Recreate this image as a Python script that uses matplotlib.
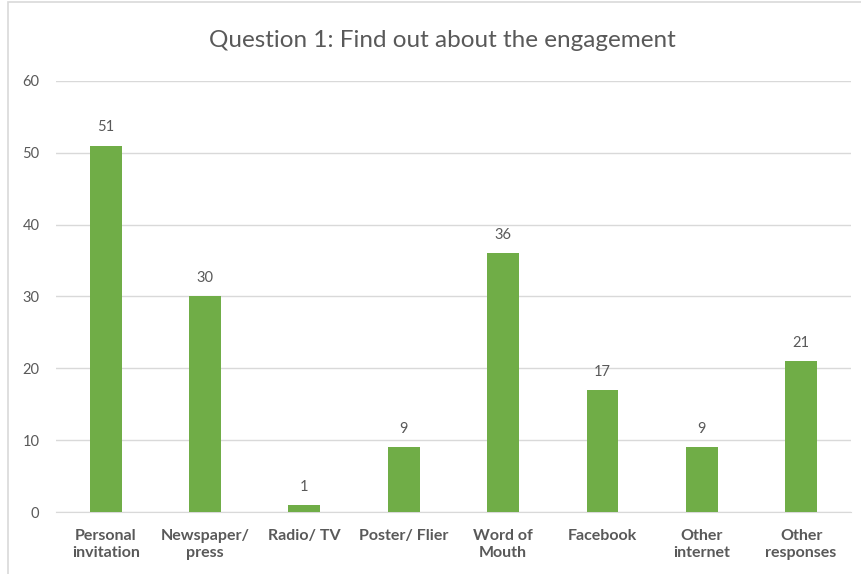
import matplotlib
matplotlib.use("Agg")
import matplotlib.pyplot as plt
from matplotlib.patches import Rectangle

categories = ["Personal\ninvitation", "Newspaper/\npress", "Radio/ TV", "Poster/ Flier",
              "Word of\nMouth", "Facebook", "Other\ninternet", "Other\nresponses"]
counts = [51, 30, 1, 9, 36, 17, 9, 21]
yticks = [0, 10, 20, 30, 40, 50, 60]

plt.rcParams["font.family"] = ["Lato", "DejaVu Sans"]
text_color = "#595959"
bar_color = "#70AD47"
grid_color = "#D9D9D9"

fig = plt.figure(figsize=(8.62, 5.74), dpi=100)
ax = fig.add_axes([0.065, 0.108, 0.922, 0.751])

x = list(range(len(categories)))
bars = ax.bar(x, counts, width=0.32, color=bar_color, zorder=3)
for rect, v in zip(bars, counts):
    ax.annotate(str(v), (rect.get_x() + rect.get_width() / 2, v),
                xytext=(0, 8), textcoords="offset points",
                ha="center", va="bottom", fontsize=10.5, color=text_color)

ax.set_xlim(-0.5, len(categories) - 0.5)
ax.set_ylim(0, 60)
ax.set_yticks(yticks)
ax.yaxis.grid(True, color=grid_color, linewidth=1, zorder=0)
ax.set_axisbelow(True)
for side in ["top", "right", "left"]:
    ax.spines[side].set_visible(False)
ax.spines["bottom"].set_color(grid_color)
ax.tick_params(axis="both", length=0, colors=text_color, labelsize=10.5)
ax.tick_params(axis="y", pad=12)
ax.tick_params(axis="x", pad=12)
ax.set_xticks(x)
ax.set_xticklabels(categories, fontweight="bold", fontsize=11.5, color=text_color,
                   linespacing=1.3)

fig.text(0.513, 0.93, "Question 1: Find out about the engagement",
         ha="center", va="center", fontsize=17.5, color=text_color)

# chart frame edges
fig.add_artist(Rectangle((8 / 862, -0.05), 2.0, 1.05 - 2 / 574,
                         transform=fig.transFigure, fill=False,
                         edgecolor="#D9D9D9", linewidth=1.2))

fig.savefig("out.png", dpi=100, facecolor="white")
